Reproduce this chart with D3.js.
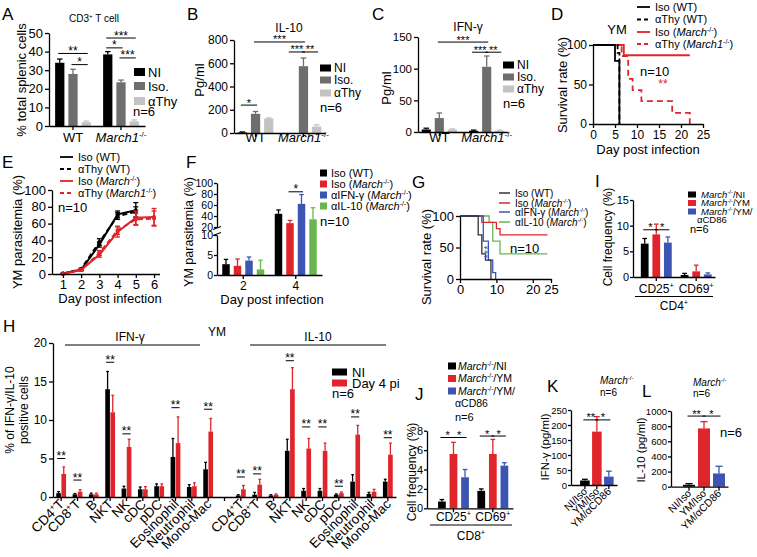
<!DOCTYPE html>
<html>
<head>
<meta charset="utf-8">
<script src="https://cdn.jsdelivr.net/npm/d3@7"></script>
<style>
body { margin: 0; background: #fff; }
</style>
</head>
<body>
<svg id="fig" width="757" height="557"></svg>
<script>
// ---------- data ----------
// A: CD3+ T cells (% total splenic cells)
var aGroups = ["WT", "_March1_^-/-^"];
var aSeries = ["NI", "Iso.", "αThy"];
var aMean = [[34, 28, 2], [38.5, 23.5, 2.5]];
var aErr = [[2, 2.5, 0.6], [1.5, 1.2, 0.8]];
var aTicks = [0, 10, 20, 30, 40, 50];
var aSig = [[0, 0, 0, 2, 39, "**"], [0, 1, 0, 2, 33, "*"], [1, 0, 1, 2, 47.3, "***"], [1, 0, 1, 1, 42, "*"], [1, 1, 1, 2, 36.6, "***"]];

// B: IL-10 (pg/ml)
var bMean = [[5, 165, 125], [0, 575, 55]];
var bErr = [[4, 20, 5], [0, 70, 15]];
var bTicks = [0, 200, 400, 600, 800];
var bSig = [[0, 0, 0, 1, 240, "*"], [0, 1, 1, 1, 783, "***"], [1, 0, 1, 1, 697, "***"], [1, 1, 1, 2, 697, "**"]];

// C: IFN-g (pg/ml)
var cMean = [[4, 22, 4], [2, 103, 2]];
var cErr = [[2, 8, 1], [1, 17, 1]];
var cTicks = [0, 50, 100, 150];
var cSig = [[0, 1, 1, 1, 142, "***"], [1, 0, 1, 1, 126, "***"], [1, 1, 1, 2, 126, "**"]];

// D: survival, YM
var dLabels = ["Iso (WT)", "αThy (WT)", "Iso (_March_^-/-^)", "αThy (_March1_^-/-^)"];
var dIsoWT = [[0, 100], [5, 80], [6, 0]];
var dThyWT = [[0, 100], [5.6, 90], [6, 0]];
var dIsoKO = [[0, 100], [7, 87], [22, 87]];
var dThyKO = [[0, 100], [6.5, 86], [8, 57], [9, 43], [11, 29], [18, 14], [22, 0]];

// E: parasitemia
var eDay = [1, 2, 3, 4, 5, 6];
var eIsoWT = [0.5, 5, 35, 71, 76];
var eIsoWTErr = [0.3, 1, 3, 4, 9];
var eThyWT = [0.5, 6, 38, 69, 74];
var eThyWTErr = [0.3, 1, 4, 4, 6];
var eIsoKO = [0, 5, 23, 50, 67, 68];
var eIsoKOErr = [0.3, 1, 3, 6, 8, 10];
var eThyKO = [0, 5, 25, 52, 65, 66];
var eThyKOErr = [0.3, 1, 3, 5, 7, 9];

// F: parasitemia with antibodies
var fDays = ["2", "4"];
var fLabels = ["Iso (WT)", "Iso (_March_^-/-^)", "αIFN-γ (_March_^-/-^)", "αIL-10 (_March_^-/-^)"];
var fMean = [[2.7, 2.3, 3.6, 1.4], [44, 27, 62, 34]];
var fErr = [[1.2, 1.7, 0.9, 2.3], [7, 5, 17, 21]];
var fSig = [[1, 1, 1, 2, 84, "*"]];

// G: survival with antibodies
var gLabels = ["Iso (WT)", "Iso (_March_^-/-^)", "αIFN-γ (_March_^-/-^)", "αIL-10 (_March_^-/-^)"];
var gIsoWT = [[0, 100], [5, 70], [6, 40], [7, 30], [8.5, 0]];
var gIsoKO = [[0, 100], [6, 90], [10, 80], [11, 70], [24, 70]];
var gIfn = [[0, 100], [6.4, 60], [7.8, 30], [9, 10], [9.8, 0]];
var gIl10 = [[0, 100], [8, 90], [9, 60], [11, 40], [24, 40]];

// H: % IFN-g / IL-10 positive cells
var hCells = ["CD4^+^T", "CD8^+^T", "B", "NKT", "NK", "cDC", "pDC", "Eosinophil", "Neutrophil", "Mono-Mac"];
var hIfnNI = [0.5, 0.35, 0.35, 14, 1.1, 1.0, 1.4, 5.2, 1.3, 3.6];
var hIfnNIErr = [0.2, 0.1, 0.15, 2.3, 0.3, 0.3, 0.3, 2.4, 0.3, 0.9];
var hIfnD4 = [3.0, 0.7, 0.35, 11, 6.5, 1.0, 1.4, 7.0, 1.4, 8.5];
var hIfnD4Err = [0.9, 0.25, 0.15, 2.2, 1.0, 0.35, 0.3, 3.4, 0.45, 1.7];
var hIl10NI = [0.2, 0.3, 0.2, 6.0, 0.8, 0.8, 0.3, 2.0, 0.4, 2.0];
var hIl10NIErr = [0.1, 0.3, 0.1, 1.5, 0.3, 0.3, 0.1, 0.9, 0.2, 0.3];
var hIl10D4 = [1.0, 1.6, 0.3, 14, 6.3, 6.0, 0.5, 8.1, 0.7, 5.5];
var hIl10D4Err = [0.5, 0.7, 0.1, 2.8, 1.3, 1.0, 0.15, 1.2, 0.3, 1.5];
var hIfnSig = [[0, 5.0], [1, 2.2], [3, 17.5], [4, 8.2], [7, 11.6], [9, 11.4]];
var hIl10Sig = [[0, 2.6], [1, 3.0], [3, 17.7], [4, 9.1], [5, 9.1], [6, 1.4], [7, 10.4], [9, 7.7]];

// I, J: cell frequency
var ijLabels = ["_March_^-/-^/NI", "_March_^-/-^/YM", "_March_^-/-^/YM/"];
var iGroups = ["CD25^+^", "CD69^+^"];
var iMean = [[6.5, 8.3, 6.7], [0.4, 1.1, 0.5]];
var iErr = [[1.0, 2.0, 1.1], [0.3, 1.2, 0.3]];
var iSig = [[0, 0, 0, 1, 9.2, "*"], [0, 1, 0, 2, 9.2, "*"]];
var jMean = [[0.7, 5.6, 3.2], [1.8, 5.6, 4.4]];
var jErr = [[0.2, 1.2, 0.8], [0.2, 1.5, 0.3]];
var jSig = [[0, 0, 0, 1, 7.3, "*"], [0, 1, 0, 2, 7.3, "*"], [1, 0, 1, 1, 7.45, "*"], [1, 1, 1, 2, 7.45, "*"]];

// K, L: cytokines with aCD86
var klCats = ["NI/Iso", "YM/Iso", "YM/αCD86"];
var kMean = [[15], [178], [28]];
var kErr = [[4], [50], [18]];
var kSig = [[0, 0, 1, 0, 217, "**"], [1, 0, 2, 0, 217, "*"]];
var lMean = [[25], [770], [175]];
var lErr = [[15], [90], [95]];
var lSig = [[0, 0, 1, 0, 933, "**"], [1, 0, 2, 0, 933, "*"]];

// ---------- helpers ----------
var FONT = "'Liberation Sans', Arial, Helvetica, sans-serif";
var svg = d3.select("#fig").attr("font-family", FONT);
var grays = ["#000000", "#6e6e6e", "#c3c3c3"];
var RED = "#e0242b", BLUE = "#3c55b3", GREEN = "#68b74e";
var colsF = ["#000000", RED, BLUE, GREEN];
var colsI = ["#000000", RED, BLUE];

// _italic_ and ^superscript^ markup
function rich(t, str, fs) {
  var it = false, sup = false, buf = "", parts = [];
  for (var c of str) {
    if (c === "_" || c === "^") {
      if (buf) parts.push({ t: buf, i: it, s: sup });
      buf = "";
      if (c === "_") it = !it; else sup = !sup;
    } else buf += c;
  }
  if (buf) parts.push({ t: buf, i: it, s: sup });
  var up = false;
  parts.forEach(function (p) {
    var ts = t.append("tspan").text(p.t);
    if (p.i) ts.attr("font-style", "italic");
    if (p.s) {
      ts.attr("font-size", fs * 0.62);
      if (!up) { ts.attr("dy", -fs * 0.38); up = true; }
    } else if (up) { ts.attr("dy", fs * 0.38); up = false; }
  });
  return t;
}

function txt(x, y, str, fs, anchor, rot, color) {
  var t = svg.append("text").attr("x", x).attr("y", y).attr("font-size", fs)
    .attr("text-anchor", anchor || "start").attr("fill", color || "#000");
  if (rot) t.attr("transform", "rotate(" + rot + "," + x + "," + y + ")");
  return rich(t, str, fs);
}

function styleAx(g, fs) {
  g.attr("font-family", FONT).attr("font-size", fs);
  g.select(".domain").attr("stroke", "#000").attr("stroke-width", 1.3);
  g.selectAll(".tick line").attr("stroke", "#000").attr("stroke-width", 1.3);
  g.selectAll(".tick text").attr("fill", "#000");
  return g;
}
function yAxis(y, x, ticks, fs, size, pad) {
  return styleAx(svg.append("g").attr("transform", "translate(" + x + ",0)")
    .call(d3.axisLeft(y).tickValues(ticks).tickFormat(d3.format("~g"))
      .tickSize(size || 4).tickSizeOuter(0).tickPadding(pad == null ? 2 : pad)), fs);
}
function xAxis(x, y, ticks, fs) {
  var ax = d3.axisBottom(x).tickSize(4).tickSizeOuter(0).tickPadding(2);
  if (ticks) ax.tickValues(ticks).tickFormat(d3.format("~g")); else ax.tickFormat("");
  return styleAx(svg.append("g").attr("transform", "translate(0," + y + ")").call(ax), fs);
}

function bars(o) {
  var x = d3.scaleBand().domain(d3.range(o.mean.length)).range([o.x0, o.x1])
    .paddingInner(o.pi).paddingOuter(o.po).align(o.al == null ? 0.5 : o.al);
  var xi = d3.scaleBand().domain(d3.range(o.mean[0].length)).range([0, x.bandwidth()])
    .paddingInner(o.ipi || 0).paddingOuter(o.ipo || 0);
  var y = o.y || d3.scaleLinear().domain(o.dom).range([o.y0, o.y1]);
  var cells = [];
  o.mean.forEach(function (row, gi) {
    row.forEach(function (v, si) {
      if (v > 0) cells.push({ g: gi, s: si, v: v, e: o.err[gi][si], c: o.color(gi, si) });
    });
  });
  var w = xi.bandwidth();
  var cx = function (d) { return x(d.g) + xi(d.s) + w / 2; };
  var g = svg.append("g");
  var eb = cells.filter(function (d) { return d.e > 0; });
  g.selectAll("line.v").data(eb).join("line").attr("class", "v")
    .attr("x1", cx).attr("x2", cx)
    .attr("y1", function (d) { return y(d.v); })
    .attr("y2", function (d) { return y(d.v + d.e); })
    .attr("stroke", function (d) { return d.c; }).attr("stroke-width", 1.3);
  g.selectAll("line.c").data(eb).join("line").attr("class", "c")
    .attr("x1", function (d) { return cx(d) - w * 0.3; })
    .attr("x2", function (d) { return cx(d) + w * 0.3; })
    .attr("y1", function (d) { return y(d.v + d.e); })
    .attr("y2", function (d) { return y(d.v + d.e); })
    .attr("stroke", function (d) { return d.c; }).attr("stroke-width", 1.3);
  g.selectAll("rect").data(cells).join("rect")
    .attr("x", function (d) { return x(d.g) + xi(d.s); })
    .attr("y", function (d) { return y(d.v); })
    .attr("width", w)
    .attr("height", function (d) { return y(0) - y(d.v); })
    .attr("fill", function (d) { return d.c; });
  return { x: x, xi: xi, y: y };
}

function sig(b, list, fs) {
  var w = b.xi.bandwidth();
  list.forEach(function (d) {
    var xa = b.x(d[0]) + b.xi(d[1]) + w / 2, xb = b.x(d[2]) + b.xi(d[3]) + w / 2;
    var yy = b.y(d[4]);
    svg.append("line").attr("x1", xa - 1.5).attr("x2", xb + 1.5).attr("y1", yy).attr("y2", yy)
      .attr("stroke", "#000").attr("stroke-width", 1);
    svg.append("text").attr("x", (xa + xb) / 2).attr("y", yy + 1.5).attr("font-size", fs || 12)
      .attr("text-anchor", "middle").text(d[5]);
  });
}

function groupLabels(b, labels, y, fs) {
  labels.forEach(function (l, i) { txt(b.x(i) + b.x.bandwidth() / 2, y, l, fs, "middle"); });
}

function legendSq(x, ys, w, h, cols, labels, fs, tx) {
  labels.forEach(function (l, i) {
    svg.append("rect").attr("x", x).attr("y", ys[i] - h / 2).attr("width", w).attr("height", h).attr("fill", cols[i]);
    txt(tx, ys[i] + fs * 0.36, l, fs);
  });
}
function legendLn(x1, x2, ys, cols, dashes, labels, fs, tx, sw) {
  labels.forEach(function (l, i) {
    svg.append("line").attr("x1", x1).attr("x2", x2).attr("y1", ys[i]).attr("y2", ys[i])
      .attr("stroke", cols[i]).attr("stroke-width", sw).attr("stroke-dasharray", dashes[i]);
    txt(tx, ys[i] + fs * 0.36, l, fs);
  });
}

// ---------- A ----------
txt(2, 20, "A", 17);
txt(94, 22, "CD3^+^ T cell", 10, "middle");
var A = bars({ x0: 49, x1: 145, y0: 126, y1: 33, dom: [0, 50], mean: aMean, err: aErr,
  pi: 0.2, po: 0.1, ipi: 0.3, ipo: 0.1, color: function (g, s) { return grays[s]; } });
yAxis(A.y, 49, aTicks, 13);
xAxis(A.x, 126, null, 13);
groupLabels(A, aGroups, 142, 13);
sig(A, aSig, 12);
legendSq(134, [72, 86, 101], 11, 8, grays, aSeries, 13, 148);
txt(133, 116, "n=6", 13);
txt(26, 80, "% total splenic cells", 13, "middle", -90);

// ---------- B ----------
txt(187, 20, "B", 17);
txt(289, 32, "IL-10", 12, "middle");
var B = bars({ x0: 234, x1: 325, y0: 133, y1: 40, dom: [0, 800], mean: bMean, err: bErr,
  pi: 0.2, po: 0.05, ipi: 0.3, ipo: 0.1, color: function (g, s) { return grays[s]; } });
yAxis(B.y, 234, bTicks, 12);
xAxis(B.x, 133, null, 12);
groupLabels(B, aGroups, 142, 13);
sig(B, bSig, 11);
legendSq(320, [68, 80, 93], 11, 7, grays, aSeries, 12, 334);
txt(320, 112, "n=6", 13);
txt(203.5, 80, "Pg/ml", 13, "middle", -90);

// ---------- C ----------
txt(372, 20, "C", 17);
txt(468, 31, "IFN-γ", 12, "middle");
var C = bars({ x0: 418, x1: 508, y0: 132, y1: 37, dom: [0, 150], mean: cMean, err: cErr,
  pi: 0.2, po: 0.05, ipi: 0.3, ipo: 0.1, color: function (g, s) { return grays[s]; } });
yAxis(C.y, 418, cTicks, 11.5);
xAxis(C.x, 132, null, 12);
groupLabels(C, aGroups, 142, 13);
sig(C, cSig, 11);
legendSq(503, [65, 77, 89], 11, 7, grays, aSeries, 12, 517);
txt(503, 108, "n=6", 13);
txt(390.5, 88, "Pg/ml", 13, "middle", -90);

// ---------- D ----------
txt(551, 20, "D", 17);
var dx = d3.scaleLinear().domain([0, 25]).range([593, 703]);
var dy = d3.scaleLinear().domain([0, 100]).range([124, 45]);
var stepLine = function (sx, sy) {
  return d3.line().x(function (d) { return sx(d[0]); }).y(function (d) { return sy(d[1]); }).curve(d3.curveStepAfter);
};
var dl = stepLine(dx, dy);
[[dIsoKO, RED, null], [dThyKO, RED, "6,4"], [dThyWT, "#000", "5,3"], [dIsoWT, "#000", null]].forEach(function (s) {
  svg.append("path").datum(s[0]).attr("d", dl).attr("fill", "none").attr("stroke", s[1])
    .attr("stroke-width", 1.8).attr("stroke-dasharray", s[2]);
});
yAxis(dy, 593, [0, 50, 100], 12);
xAxis(dx, 124, [0, 5, 10, 15, 20, 25], 12);
txt(648, 154, "Day post infection", 13, "middle");
txt(567, 85, "Survival rate (%)", 13, "middle", -90);
txt(617, 34, "YM", 13, "middle");
legendLn(637, 650, [7, 19.5, 32, 44], ["#000", "#000", RED, RED], [null, "4,3", null, "4,3"], dLabels, 11, 655, 1.8);
txt(640, 75.5, "n=10", 13);
txt(663, 87.5, "**", 12, "middle", 0, RED);

// ---------- E ----------
txt(2, 168, "E", 17);
var ex = d3.scaleLinear().domain([0.4, 6.3]).range([52, 159.5]);
var ey = d3.scaleLinear().domain([0, 100]).range([274, 190]);
[[eIsoWT, eIsoWTErr, "#000", null], [eThyWT, eThyWTErr, "#000", "5,3"],
 [eIsoKO, eIsoKOErr, RED, null], [eThyKO, eThyKOErr, RED, "5,3"]].forEach(function (s) {
  var pts = s[0].map(function (v, i) { return { d: eDay[i], v: v, e: s[1][i] }; });
  var g = svg.append("g");
  g.append("path").datum(pts).attr("fill", "none").attr("stroke", s[2]).attr("stroke-width", 2)
    .attr("stroke-dasharray", s[3])
    .attr("d", d3.line().x(function (d) { return ex(d.d); }).y(function (d) { return ey(d.v); }));
  g.selectAll("line.v").data(pts).join("line").attr("class", "v")
    .attr("x1", function (d) { return ex(d.d); }).attr("x2", function (d) { return ex(d.d); })
    .attr("y1", function (d) { return ey(d.v - d.e); }).attr("y2", function (d) { return ey(d.v + d.e); })
    .attr("stroke", s[2]).attr("stroke-width", 1.3);
  [-1, 1].forEach(function (sgn) {
    g.selectAll("line.c" + (sgn + 1)).data(pts).join("line").attr("class", "c" + (sgn + 1))
      .attr("x1", function (d) { return ex(d.d) - 2.5; }).attr("x2", function (d) { return ex(d.d) + 2.5; })
      .attr("y1", function (d) { return ey(d.v + sgn * d.e); }).attr("y2", function (d) { return ey(d.v + sgn * d.e); })
      .attr("stroke", s[2]).attr("stroke-width", 1.3);
  });
  g.selectAll("circle").data(pts).join("circle")
    .attr("cx", function (d) { return ex(d.d); }).attr("cy", function (d) { return ey(d.v); })
    .attr("r", 2).attr("fill", s[2]);
});
yAxis(ey, 52, [0, 20, 40, 60, 80, 100], 13);
xAxis(ex, 274, [1, 2, 3, 4, 5, 6], 13);
txt(110, 303, "Day post infection", 13, "middle");
txt(22, 232, "YM parasitemia (%)", 13, "middle", -90);
legendLn(60, 73, [157, 169, 181, 193], ["#000", "#000", RED, RED], [null, "4,3", null, "4,3"], dLabels, 11, 78, 1.8);
txt(58, 212, "n=10", 13);

// ---------- F ----------
txt(186, 168, "F", 17);
var fy = d3.scaleLinear().domain([0, 10, 20, 100]).range([275, 235, 227, 183]);
var fyLo = d3.scaleLinear().domain([0, 10]).range([275, 235]);
var fyUp = d3.scaleLinear().domain([20, 100]).range([227, 183]);
var F = bars({ x0: 217, x1: 322, y: fy, mean: fMean, err: fErr,
  pi: 0.2, po: 0.1, ipi: 0.35, ipo: 0, color: function (g, s) { return colsF[s]; } });
yAxis(fyLo, 217, [0, 5, 10], 10.5, 3, 1);
yAxis(fyUp, 217, [20, 40, 60, 80, 100], 10.5, 3, 1);
svg.append("rect").attr("x", 214).attr("y", 228.5).attr("width", 6).attr("height", 5).attr("fill", "#fff");
[228, 234].forEach(function (yy) {
  svg.append("line").attr("x1", 213).attr("x2", 221).attr("y1", yy + 1.5).attr("y2", yy - 1.5)
    .attr("stroke", "#000").attr("stroke-width", 1.2);
});
xAxis(F.x, 275, null, 12);
groupLabels(F, fDays, 290, 12);
sig(F, fSig, 12);
txt(272, 304, "Day post infection", 13, "middle");
txt(193, 232, "YM parasitemia (%)", 12.5, "middle", -90);
legendSq(320, [173, 184, 195, 206], 7, 7, colsF, fLabels, 11, 331);
txt(320, 226, "n=10", 13);

// ---------- G ----------
txt(412, 188, "G", 17);
var gx = d3.scaleLinear().domain([0, 25]).range([460, 551]);
var gy = d3.scaleLinear().domain([0, 100]).range([279, 216]);
var gl = stepLine(gx, gy);
[[gIl10, GREEN], [gIsoKO, RED], [gIfn, BLUE], [gIsoWT, "#333"]].forEach(function (s) {
  svg.append("path").datum(s[0]).attr("d", gl).attr("fill", "none").attr("stroke", s[1]).attr("stroke-width", 1.3);
});
yAxis(gy, 460, [0, 50, 100], 13);
xAxis(gx, 279, [0, 10, 20, 25], 13);
txt(430.5, 257, "Survival rate (%)", 13, "middle", -90);
legendLn(499, 510, [193, 203, 212, 222], ["#333", RED, BLUE, GREEN], [null, null, null, null], gLabels, 10, 515, 1.5);
txt(510, 253, "n=10", 13);
txt(492, 252, "***", 11, "middle", -90, BLUE);

// ---------- H ----------
txt(3, 332, "H", 17);
var hMean = [], hErr = [], hSlots = [];
hCells.forEach(function (c, i) { hMean.push([hIfnNI[i], hIfnD4[i]]); hErr.push([hIfnNIErr[i], hIfnD4Err[i]]); hSlots.push(c); });
hMean.push([0, 0]); hErr.push([0, 0]); hSlots.push("");
hCells.forEach(function (c, i) { hMean.push([hIl10NI[i], hIl10D4[i]]); hErr.push([hIl10NIErr[i], hIl10D4Err[i]]); hSlots.push(c); });
var H = bars({ x0: 53, x1: 396, y0: 497, y1: 343, dom: [0, 20], mean: hMean, err: hErr,
  pi: 0.4, po: 0.2, ipi: 0.1, ipo: 0, color: function (g, s) { return s ? RED : "#000"; } });
yAxis(H.y, 53, [0, 5, 10, 15, 20], 12);
xAxis(H.x, 497, null, 12);
hSlots.forEach(function (l, i) {
  if (l) txt(H.x(i) + H.x.bandwidth() / 2 + 4, 505, l, 13.5, "end", -45);
});
sig(H, hIfnSig.map(function (d) { return [d[0], 0, d[0], 1, d[1], "**"]; }), 12);
sig(H, hIl10Sig.map(function (d) { return [d[0] + 11, 0, d[0] + 11, 1, d[1], "**"]; }), 12);
txt(130, 341, "IFN-γ", 12, "middle");
txt(217, 336, "YM", 12, "middle");
txt(318, 341, "IL-10", 12, "middle");
svg.append("line").attr("x1", 65).attr("x2", 200).attr("y1", 345).attr("y2", 345).attr("stroke", "#000");
svg.append("line").attr("x1", 250).attr("x2", 386).attr("y1", 345).attr("y2", 345).attr("stroke", "#000");
legendSq(332, [372, 383], 15, 7, ["#000", RED], ["NI", "Day 4 pi"], 13, 352);
txt(332, 398, "n=6", 13);
txt(14, 410, "% of IFN-γ/IL-10", 12, "middle", -90);
txt(28, 410, "positive cells", 12, "middle", -90);

// ---------- I ----------
txt(595, 187, "I", 17);
var I = bars({ x0: 633, x1: 715, y0: 277, y1: 200, dom: [0, 15], mean: iMean, err: iErr,
  pi: 0.225, po: 0.14, al: 0.7, ipi: 0.33, ipo: 0, color: function (g, s) { return colsI[s]; } });
yAxis(I.y, 633, [0, 5, 10, 15], 11, 3, 1);
xAxis(I.x, 277, null, 11);
groupLabels(I, iGroups, 293, 12);
svg.append("line").attr("x1", 635).attr("x2", 713).attr("y1", 296.5).attr("y2", 296.5).attr("stroke", "#000");
txt(674, 310, "CD4^+^", 12, "middle");
sig(I, iSig, 11);
txt(612, 237, "Cell frequency (%)", 12, "middle", -90);
legendSq(688, [194.5, 203, 211.5], 8, 6, colsI, ijLabels, 9.5, 701);
txt(697, 223, "αCD86", 9.5);
txt(690, 233, "n=6", 11);

// ---------- J ----------
txt(415, 400, "J", 17);
var J = bars({ x0: 427, x1: 513, y0: 508.3, y1: 430.7, dom: [0, 8], mean: jMean, err: jErr,
  pi: 0.215, po: 0.2, al: 0.7, ipi: 0.33, ipo: 0, color: function (g, s) { return colsI[s]; } });
yAxis(J.y, 427, [0, 2, 4, 6, 8], 11, 3, 1);
xAxis(J.x, 508.3, null, 11);
groupLabels(J, iGroups, 521, 12);
svg.append("line").attr("x1", 430).attr("x2", 512).attr("y1", 525).attr("y2", 525).attr("stroke", "#000");
txt(471, 540, "CD8^+^", 12, "middle");
sig(J, jSig, 11);
txt(415.5, 472, "Cell frequency (%)", 12, "middle", -90);
legendSq(448, [366, 378.5, 391], 8, 7, colsI, ijLabels, 10.5, 458);
txt(455, 406.5, "αCD86", 10.5);
txt(455, 421, "n=6", 11);

// ---------- K ----------
txt(547, 392, "K", 17);
txt(600, 384, "_March_^-/-^", 10);
txt(600, 396, "n=6", 10);
var K = bars({ x0: 571, x1: 617, y0: 485, y1: 410, dom: [0, 250], mean: kMean, err: kErr,
  pi: 0.2, po: 0.52, al: 0.73, color: function (g) { return colsI[g]; } });
yAxis(K.y, 571, [0, 50, 100, 150, 200, 250], 9.5, 3, 1);
xAxis(K.x, 485, null, 10);
klCats.forEach(function (l, i) { txt(K.x(i) + K.x.bandwidth() / 2 + 3, 492, l, 10.5, "end", -45); });
sig(K, kSig, 11);
txt(549, 447, "IFN-γ (pg/ml)", 11.5, "middle", -90);

// ---------- L ----------
txt(642, 397, "L", 17);
txt(693, 386, "_March_^-/-^", 10);
txt(693, 397, "n=6", 10);
var L = bars({ x0: 671, x1: 728, y0: 486.7, y1: 411, dom: [0, 1000], mean: lMean, err: lErr,
  pi: 0.2, po: 0.5, al: 0.8, color: function (g) { return colsI[g]; } });
yAxis(L.y, 671, [0, 200, 400, 600, 800, 1000], 9.5, 3, 1);
xAxis(L.x, 486.7, null, 10);
klCats.forEach(function (l, i) { txt(L.x(i) + L.x.bandwidth() / 2 + 3, 494, l, 10.5, "end", -45); });
sig(L, lSig, 11);
txt(720, 437, "n=6", 13);
txt(645, 450, "IL-10 (pg/ml)", 11.5, "middle", -90);
</script>
</body>
</html>
